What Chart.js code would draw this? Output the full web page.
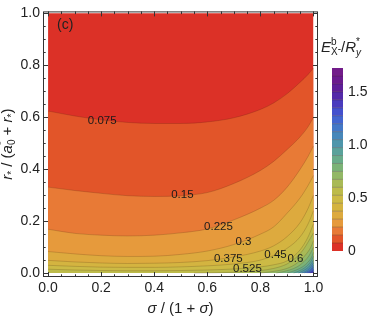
<!DOCTYPE html>
<html>
<head>
<meta charset="utf-8">
<script src="https://cdn.jsdelivr.net/npm/chart.js@4.4.1/dist/chart.umd.min.js"></script>
<style>
  html, body { margin: 0; padding: 0; background: #fff; }
</style>
</head>
<body>
<canvas id="contour" width="374" height="319"></canvas>
<script>
// contour levels of E_X-^b / R_y^*
var levels = [0.075, 0.15, 0.225, 0.3, 0.375, 0.45, 0.525, 0.6, 0.675, 0.75, 0.825, 0.9, 0.975, 1.05, 1.125, 1.2, 1.275, 1.35];

// contour lines (x = sigma/(1+sigma), y = r*/(a0*+r*))
var gx = [0, 0.1, 0.2, 0.3, 0.4, 0.5, 0.6, 0.7, 0.8, 0.85, 0.9, 0.95, 0.98, 1];
var contourX = [
  gx, gx, gx, gx, gx, gx, gx,
  [0.55, 0.7, 0.8, 0.85, 0.9, 0.93, 0.96, 0.98, 1],
  [0.8, 0.87, 0.91, 0.94, 0.97, 0.99, 1],
  [0.86, 0.91, 0.94, 0.965, 0.985, 1],
  [0.9, 0.935, 0.96, 0.98, 0.993, 1],
  [0.925, 0.955, 0.975, 0.99, 1],
  [0.943, 0.968, 0.985, 1],
  [0.956, 0.977, 0.99, 1],
  [0.966, 0.984, 0.994, 1],
  [0.975, 0.989, 1],
  [0.982, 0.993, 1],
  [0.988, 0.996, 1]
];
var contourY = [
  [0.624, 0.605, 0.590, 0.580, 0.576, 0.576, 0.582, 0.598, 0.630, 0.655, 0.690, 0.735, 0.765, 0.790],
  [0.331, 0.318, 0.307, 0.298, 0.295, 0.298, 0.310, 0.345, 0.395, 0.430, 0.475, 0.525, 0.564, 0.600],
  [0.169, 0.153, 0.146, 0.143, 0.146, 0.155, 0.170, 0.205, 0.250, 0.280, 0.330, 0.400, 0.450, 0.490],
  [0.083, 0.074, 0.067, 0.064, 0.065, 0.072, 0.085, 0.110, 0.150, 0.178, 0.230, 0.290, 0.338, 0.376],
  [0.049, 0.043, 0.039, 0.037, 0.038, 0.041, 0.048, 0.062, 0.085, 0.105, 0.140, 0.195, 0.250, 0.300],
  [0.030, 0.026, 0.023, 0.022, 0.022, 0.024, 0.028, 0.035, 0.050, 0.068, 0.095, 0.140, 0.190, 0.240],
  [0.015, 0.012, 0.010, 0.009, 0.009, 0.010, 0.012, 0.016, 0.024, 0.032, 0.047, 0.090, 0.140, 0.190],
  [0, 0.003, 0.010, 0.018, 0.035, 0.056, 0.088, 0.120, 0.155],
  [0, 0.010, 0.022, 0.040, 0.070, 0.100, 0.125],
  [0, 0.012, 0.025, 0.045, 0.070, 0.100],
  [0, 0.012, 0.025, 0.043, 0.062, 0.080],
  [0, 0.013, 0.027, 0.045, 0.065],
  [0, 0.013, 0.027, 0.050],
  [0, 0.011, 0.024, 0.040],
  [0, 0.010, 0.020, 0.030],
  [0, 0.009, 0.022],
  [0, 0.007, 0.015],
  [0, 0.005, 0.010]
];

// contour labels
var labelText = ['0.075', '0.15', '0.225', '0.3', '0.375', '0.45', '0.6', '0.525'];
var labelX = [0.204, 0.506, 0.642, 0.736, 0.679, 0.857, 0.932, 0.751];
var labelY = [0.586, 0.300, 0.177, 0.120, 0.056, 0.071, 0.056, 0.015];

var xTicks = [0, 0.2, 0.4, 0.6, 0.8, 1.0];
var yTicks = [0, 0.2, 0.4, 0.6, 0.8, 1.0];
var cbTicks = [0, 0.5, 1.0, 1.5];
var step = 0.075;

// band colours, lowest band first (red) up to purple
var bandColors = [
  'rgb(220,49,39)', 'rgb(226,85,41)', 'rgb(232,122,54)', 'rgb(230,154,60)', 'rgb(221,170,62)',
  'rgb(212,180,64)', 'rgb(204,186,69)', 'rgb(189,187,74)', 'rgb(169,186,86)', 'rgb(147,184,102)',
  'rgb(124,179,119)', 'rgb(105,172,138)', 'rgb(90,162,155)', 'rgb(78,150,171)', 'rgb(71,135,186)',
  'rgb(68,120,199)', 'rgb(67,101,208)', 'rgb(68,80,206)', 'rgb(74,59,190)', 'rgb(84,41,169)',
  'rgb(94,30,152)', 'rgb(106,26,142)', 'rgb(114,28,138)'
];
var lineColor = 'rgba(60,30,10,0.28)';
var FONT = '"Liberation Sans", Arial, sans-serif';

var datasets = [];
// lowest band covers the whole unit square
datasets.push({ data: [{x: 0, y: 1}, {x: 1, y: 1}], backgroundColor: bandColors[0], borderWidth: 0, order: 100 });
levels.forEach(function (lv, k) {
  var pts = contourX[k].map(function (x, i) { return {x: x, y: contourY[k][i]}; });
  datasets.push({
    data: pts,
    backgroundColor: bandColors[k + 1],
    borderColor: lineColor,
    borderWidth: 0.7,
    cubicInterpolationMode: 'monotone',
    order: 99 - k
  });
});
datasets.forEach(function (d) {
  d.showLine = true;
  d.fill = 'origin';
  d.pointRadius = 0;
  d.pointHoverRadius = 0;
});

function richWidth(ctx, parts) {
  var cx = 0, prev = 0;
  parts.forEach(function (p) {
    ctx.font = (p.i ? 'italic ' : '') + p.s + 'px ' + FONT;
    var start = p.back ? prev : cx;
    var w = ctx.measureText(p.t).width;
    if (p.back) cx = Math.max(cx, start + w); else { prev = start; cx = start + w; }
  });
  return cx;
}
function rich(ctx, parts, x, y) {
  var cx = x, prev = x;
  parts.forEach(function (p) {
    ctx.font = (p.i ? 'italic ' : '') + p.s + 'px ' + FONT;
    var start = p.back ? prev : cx;
    ctx.fillText(p.t, start, y + (p.dy || 0));
    var w = ctx.measureText(p.t).width;
    if (p.back) cx = Math.max(cx, start + w); else { prev = start; cx = start + w; }
  });
}

var overlay = {
  id: 'overlay',
  afterDraw: function (chart) {
    var ctx = chart.ctx, a = chart.chartArea, xs = chart.scales.x, ys = chart.scales.y;
    ctx.save();

    // labels on contours
    ctx.font = '11.5px ' + FONT;
    ctx.fillStyle = '#1a1a1a';
    ctx.textAlign = 'center';
    ctx.textBaseline = 'middle';
    labelText.forEach(function (t, i) {
      ctx.fillText(t, xs.getPixelForValue(labelX[i]), ys.getPixelForValue(labelY[i]));
    });

    // frame + inward ticks
    ctx.strokeStyle = '#333';
    ctx.lineWidth = 1;
    ctx.strokeRect(a.left + 0.5, a.top + 0.5, a.right - a.left - 1, a.bottom - a.top - 1);
    ctx.beginPath();
    for (var i = 0; i <= 20; i++) {
      var v = i * 0.05, len = (i % 4 === 0) ? 5 : 2.7;
      var px = Math.round(xs.getPixelForValue(v)) + 0.5;
      var py = Math.round(ys.getPixelForValue(v)) + 0.5;
      ctx.moveTo(px, a.bottom); ctx.lineTo(px, a.bottom - len);
      ctx.moveTo(px, a.top); ctx.lineTo(px, a.top + len);
      ctx.moveTo(a.left, py); ctx.lineTo(a.left + len, py);
      ctx.moveTo(a.right, py); ctx.lineTo(a.right - len, py);
    }
    ctx.stroke();

    // colour bar
    var cbL = 332, cbR = 343, cbB = 251, cbT = 68, cbMax = bandColors.length * step;
    function cbY(v) { return cbB - (cbB - cbT) * v / cbMax; }
    bandColors.forEach(function (c, k) {
      var y1 = cbY((k + 1) * step), y0 = cbY(k * step);
      ctx.fillStyle = c;
      ctx.fillRect(cbL, y1, cbR - cbL, y0 - y1);
    });
    ctx.strokeStyle = 'rgba(40,20,10,0.35)';
    ctx.lineWidth = 0.8;
    ctx.beginPath();
    for (var k = 1; k < bandColors.length; k++) {
      var yy = cbY(k * step);
      ctx.moveTo(cbL, yy); ctx.lineTo(cbR, yy);
    }
    ctx.stroke();
    ctx.fillStyle = '#222';
    ctx.font = '14px ' + FONT;
    ctx.textAlign = 'left';
    ctx.textBaseline = 'middle';
    cbTicks.forEach(function (v) {
      ctx.fillText(v === 0 ? '0' : v.toFixed(1), 348, cbY(v));
    });

    ctx.textBaseline = 'alphabetic';
    // colour bar title
    rich(ctx, [
      {t: 'E', i: true, s: 15},
      {t: 'b', s: 10, dy: -7},
      {t: 'X', s: 10, dy: 3, back: true},
      {t: '-', s: 10, dy: 0},
      {t: '/', s: 15},
      {t: 'R', i: true, s: 15},
      {t: '*', s: 10, dy: -7},
      {t: 'y', i: true, s: 10, dy: 4, back: true}
    ], 321, 52);

    // panel label
    ctx.font = '14px ' + FONT;
    ctx.fillText('(c)', 57, 29);

    // x title
    var xParts = [
      {t: 'σ', i: true, s: 15},
      {t: ' / (1 + ', s: 15},
      {t: 'σ', i: true, s: 15},
      {t: ')', s: 15}
    ];
    rich(ctx, xParts, (a.left + a.right) / 2 - richWidth(ctx, xParts) / 2, 313);

    // y title
    var yParts = [
      {t: 'r', i: true, s: 15},
      {t: '*', s: 10, dy: 3},
      {t: ' / (', s: 15},
      {t: 'a', i: true, s: 15},
      {t: '0', s: 10, dy: 3},
      {t: '*', s: 10, dy: -7, back: true},
      {t: ' + ', s: 15},
      {t: 'r', i: true, s: 15},
      {t: '*', s: 10, dy: 3},
      {t: ')', s: 15}
    ];
    ctx.translate(12, (a.top + a.bottom) / 2);
    ctx.rotate(-Math.PI / 2);
    rich(ctx, yParts, -richWidth(ctx, yParts) / 2, 0);

    ctx.restore();
  }
};

new Chart(document.getElementById('contour'), {
  type: 'scatter',
  data: { datasets: datasets },
  options: {
    responsive: false,
    animation: false,
    layout: { padding: { left: 0, right: 56, top: 5, bottom: 0 } },
    plugins: {
      legend: { display: false },
      tooltip: { enabled: false },
      filler: { drawTime: 'beforeDatasetsDraw' }
    },
    scales: {
      x: {
        type: 'linear', min: -0.019, max: 1.017,
        afterBuildTicks: function (s) { s.ticks = xTicks.map(function (v) { return {value: v}; }); },
        afterFit: function (s) { s.height = 42; },
        grid: { display: false, drawTicks: false }, border: { display: false },
        ticks: { padding: 3, color: '#222', font: { family: FONT, size: 14 }, maxRotation: 0, autoSkip: false,
          callback: function (v) { return Number(v).toFixed(1); } }
      },
      y: {
        type: 'linear', min: -0.015, max: 1.0075,
        afterBuildTicks: function (s) { s.ticks = yTicks.map(function (v) { return {value: v}; }); },
        afterFit: function (s) { s.width = 43; },
        grid: { display: false, drawTicks: false }, border: { display: false },
        ticks: { padding: 3, color: '#222', font: { family: FONT, size: 14 }, autoSkip: false,
          callback: function (v) { return Number(v).toFixed(1); } }
      }
    }
  },
  plugins: [overlay]
});
</script>
</body>
</html>
